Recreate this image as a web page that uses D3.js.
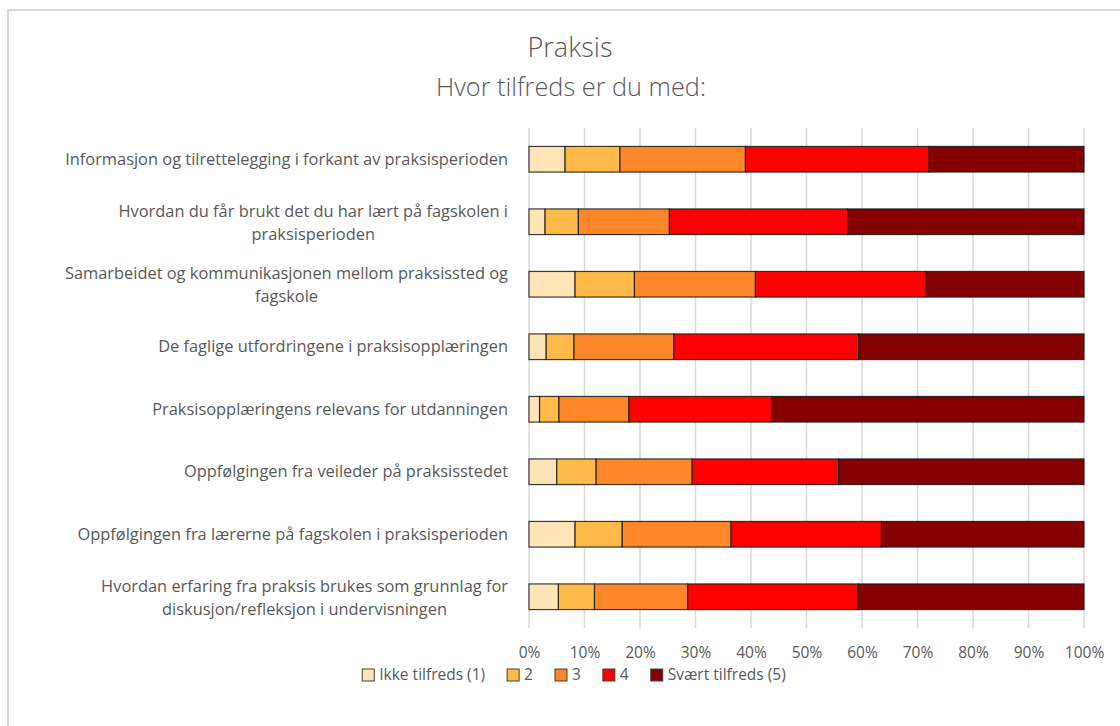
<!DOCTYPE html>
<html>
<head>
<meta charset="utf-8">
<script src="https://cdn.jsdelivr.net/npm/d3@7"></script>
<style>
  html, body { margin: 0; padding: 0; background: #fff; }
  svg { display: block; }
  text { font-family: "Open Sans", Lato, sans-serif; fill: #595959; }
</style>
</head>
<body>
<svg id="chart" width="1120" height="726"></svg>
<script>
const categories = [
  ["Informasjon og tilrettelegging i forkant av praksisperioden"],
  ["Hvordan du får brukt det du har lært på fagskolen i", "praksisperioden"],
  ["Samarbeidet og kommunikasjonen mellom praksissted og", "fagskole"],
  ["De faglige utfordringene i praksisopplæringen"],
  ["Praksisopplæringens relevans for utdanningen"],
  ["Oppfølgingen fra veileder på praksisstedet"],
  ["Oppfølgingen fra lærerne på fagskolen i praksisperioden"],
  ["Hvordan erfaring fra praksis brukes som grunnlag for", "diskusjon/refleksjon i undervisningen"]
];
const seriesNames = ["Ikke tilfreds (1)", "2", "3", "4", "Svært tilfreds (5)"];
const s1 = [6.5, 2.9, 8.3, 3.1, 1.9, 5.0, 8.3, 5.3];
const s2 = [9.9, 6.0, 10.7, 5.0, 3.5, 7.1, 8.5, 6.5];
const s3 = [22.6, 16.4, 21.8, 18.0, 12.6, 17.3, 19.6, 16.8];
const s4 = [33.1, 32.1, 30.7, 33.3, 25.7, 26.4, 27.1, 30.7];
const s5 = [27.9, 42.6, 28.5, 40.6, 56.3, 44.2, 36.5, 40.7];
const colors = ["#FFE4B7", "#FEBA48", "#FD8629", "#FF0000", "#850000"];
const tickValues = [0, 0.1, 0.2, 0.3, 0.4, 0.5, 0.6, 0.7, 0.8, 0.9, 1.0];
const title = "Praksis";
const subtitle = "Hvor tilfreds er du med:";

const svg = d3.select("#chart");

function fitSize(sel, base, target) {
  sel.style("font-size", base + "px");
  const w = sel.node().getComputedTextLength();
  return base * target / w;
}

// outer chart border
svg.append("rect").attr("x", 8).attr("y", 10).attr("width", 1130).attr("height", 730)
  .attr("fill", "none").attr("stroke", "#d9d9d9").attr("stroke-width", 2);

const x = d3.scaleLinear().domain([0, 1]).range([529, 1084]);
const y = d3.scaleBand().domain(d3.range(categories.length)).range([128, 628]).paddingInner(0.59).paddingOuter(0.295);

// gridlines
svg.append("g").selectAll("line").data(tickValues).join("line")
  .attr("x1", d => x(d)).attr("x2", d => x(d))
  .attr("y1", 128).attr("y2", 628)
  .attr("stroke", "#d9d9d9").attr("stroke-width", 1.5);

// stacked data
const rows = categories.map((c, i) => {
  const vals = [s1[i], s2[i], s3[i], s4[i], s5[i]];
  const tot = d3.sum(vals);
  const o = { idx: i };
  vals.forEach((v, k) => o["k" + k] = v / tot);
  return o;
});
const keys = seriesNames.map((n, k) => "k" + k);
const stack = d3.stack().keys(keys)(rows);

svg.append("g").selectAll("g").data(stack).join("g")
  .attr("fill", (d, k) => colors[k])
  .selectAll("rect").data(d => d).join("rect")
  .attr("x", d => x(d[0]))
  .attr("width", d => x(d[1]) - x(d[0]))
  .attr("y", d => y(d.data.idx))
  .attr("height", y.bandwidth())
  .attr("stroke", "#1a1a1a").attr("stroke-opacity", 0.85).attr("stroke-width", 1.2);

// label font size fitted to the reference width of the longest label
const probe = svg.append("text").text(categories[0][0]);
const labelSize = Math.min(16.4, fitSize(probe, 16, 471));
probe.remove();

// x axis labels
const probe2 = svg.append("text").text("100%");
const tickSize = Math.min(15.5, fitSize(probe2, 16, 46));
probe2.remove();
const xAxis = d3.axisBottom(x).tickValues(tickValues).tickFormat(d3.format(".0%")).tickSize(0).tickPadding(0);
const gx = svg.append("g").attr("transform", "translate(0,653)").call(xAxis);
gx.select(".domain").remove();
gx.selectAll("text").style("font-family", "'Open Sans', sans-serif").style("font-size", tickSize + "px")
  .attr("fill", "#595959").attr("dy", "0.35em");

// category labels
const labelG = svg.append("g");
categories.forEach((lines, i) => {
  const cy = y(i) + y.bandwidth() / 2 + (lines.length > 1 ? 1 : 0);
  const lh = 23;
  const g = labelG.append("g");
  const texts = lines.map((ln, j) => g.append("text")
    .attr("y", cy + (j - (lines.length - 1) / 2) * lh)
    .attr("dy", "0.35em")
    .style("font-size", labelSize + "px")
    .text(ln));
  const maxW = d3.max(texts.map(t => t.node().getComputedTextLength()));
  const right = 508;
  texts.forEach(t => t.attr("x", right - maxW / 2).attr("text-anchor", "middle"));
});

// titles
const t1 = svg.append("text").attr("x", 570).attr("y", 57).attr("text-anchor", "middle")
  .style("font-weight", 300).text(title);
t1.style("font-size", fitSize(t1, 24, 85) + "px");
const t2 = svg.append("text").attr("x", 571).attr("y", 96).attr("text-anchor", "middle")
  .style("font-weight", 300).text(subtitle);
t2.style("font-size", fitSize(t2, 20, 270) + "px");

// legend
const leg = svg.append("g");
let lx = 0;
const gap = 22;
seriesNames.forEach((n, k) => {
  const g = leg.append("g");
  g.append("rect").attr("x", 0).attr("y", -6).attr("width", 12).attr("height", 12)
    .attr("fill", colors[k]).attr("stroke", "#404040").attr("stroke-width", 1);
  const t = g.append("text").attr("x", 17).attr("dy", "0.35em").style("font-size", tickSize + "px").text(n);
  const w = 17 + t.node().getComputedTextLength();
  g.attr("transform", `translate(${lx},0)`);
  lx += w + gap;
});
const totalW = lx - gap;
leg.attr("transform", `translate(${574 - totalW / 2},675)`);
</script>
</body>
</html>
